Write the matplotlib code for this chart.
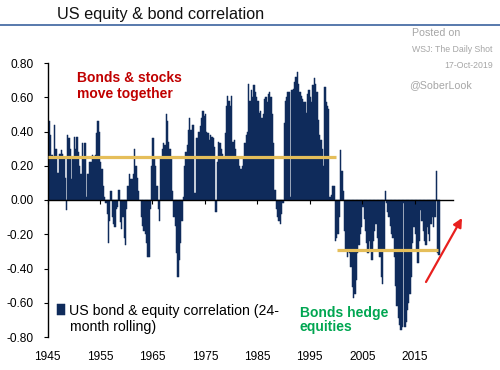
import matplotlib
matplotlib.use("Agg")
import numpy as np
import matplotlib.pyplot as plt
from matplotlib.ticker import FormatStrFormatter

plt.rcParams['font.family'] = ['Liberation Sans', 'DejaVu Sans']
plt.rcParams['axes.unicode_minus'] = False

# 24-month rolling correlation, quarterly readings starting 1945 Q2
start_year = 1945.25
corr = [
    0.46, 0.38, 0.26,                # 1945
    0.25, 0.44, 0.30, 0.16,          # 1946
    0.16, 0.27, 0.29, 0.27,          # 1947
    0.25, 0.13, -0.06, 0.38,         # 1948
    0.36, 0.30, 0.12, 0.25,          # 1949
    0.37, 0.30, 0.37, 0.28,          # 1950
    0.20, 0.15, 0.33, 0.25,          # 1951
    0.33, 0.02, 0.15, 0.15,          # 1952
    0.22, 0.22, 0.26, 0.24,          # 1953
    0.26, 0.39, 0.46, 0.40,          # 1954
    0.22, 0.18, 0.08, 0.02,          # 1955
    -0.02, -0.08, -0.25, -0.12,      # 1956
    0.05, -0.10, -0.14, -0.16,       # 1957
    -0.05, -0.04, 0.06, -0.13,       # 1958
    -0.17, -0.10, -0.22, -0.26,      # 1959
    -0.05, 0.08, 0.15, 0.12,         # 1960
    0.12, 0.15, 0.30, 0.20,          # 1961
    0.13, 0.05, 0.00, -0.10,         # 1962
    -0.15, -0.18, -0.20, -0.25,      # 1963
    -0.33, -0.33, -0.05, 0.20,       # 1964
    0.36, 0.24, 0.20, 0.08,          # 1965
    -0.05, -0.12, 0.24, 0.30,        # 1966
    0.33, 0.32, 0.50, 0.46,          # 1967
    0.34, 0.30, 0.25, 0.05,          # 1968
    -0.10, -0.15, -0.31, -0.45,      # 1969
    -0.35, -0.25, -0.12, 0.02,       # 1970
    0.20, 0.28, 0.32, 0.41,          # 1971
    0.48, 0.41, 0.44, 0.44,          # 1972
    0.04, 0.36, 0.36, 0.40,          # 1973
    0.43, 0.48, 0.52, 0.49,          # 1974
    0.50, 0.40, 0.39, 0.35,          # 1975
    0.38, 0.37, 0.36, 0.31,          # 1976
    -0.07, 0.22, 0.34, 0.33,         # 1977
    0.30, 0.27, 0.25, 0.39,          # 1978
    0.55, 0.61, 0.58, 0.55,          # 1979
    0.61, 0.34, 0.35, 0.30,          # 1980
    0.25, 0.24, 0.20, 0.18,          # 1981
    0.20, 0.24, 0.33, 0.38,          # 1982
    0.40, 0.68, 0.58, 0.64,          # 1983
    0.60, 0.67, 0.63, 0.60,          # 1984
    0.58, 0.51, 0.52, 0.48,          # 1985
    0.50, 0.59, 0.60, 0.57,          # 1986
    0.62, 0.63, 0.60, 0.50,          # 1987
    0.33, 0.06, -0.05, -0.10,        # 1988
    -0.12, -0.14, -0.08, -0.02,      # 1989
    0.45, 0.58, 0.60, 0.63,          # 1990
    0.63, 0.02, 0.64, 0.65,          # 1991
    0.69, 0.72, 0.75, 0.68,          # 1992
    0.63, 0.61, 0.59, 0.57,          # 1993
    0.57, 0.51, 0.62, 0.64,          # 1994
    0.60, 0.57, 0.67, 0.71,          # 1995
    0.68, 0.63, 0.47, 0.38,          # 1996
    0.35, 0.30, 0.20, 0.66,          # 1997
    0.57, 0.55, 0.53, 0.02,          # 1998
    0.03, 0.08, 0.08, -0.24,         # 1999
    -0.22, -0.20, -0.10, 0.29,       # 2000
    0.17, 0.05, -0.18, -0.30,        # 2001
    -0.33, -0.30, -0.31, -0.39,      # 2002
    -0.51, -0.57, -0.55, -0.47,      # 2003
    -0.31, -0.26, -0.20, -0.16,      # 2004
    -0.04, -0.11, -0.18, -0.25,      # 2005
    -0.31, -0.24, -0.30, -0.35,      # 2006
    -0.24, -0.18, -0.14, -0.22,      # 2007
    -0.29, -0.33, -0.45, -0.49,      # 2008
    -0.30, 0.05, -0.02, -0.07,       # 2009
    -0.10, -0.15, -0.20, -0.22,      # 2010
    -0.33, -0.50, -0.62, -0.69,      # 2011
    -0.73, -0.76, -0.74, -0.02,      # 2012
    -0.74, -0.71, -0.64, -0.60,      # 2013
    -0.55, -0.45, -0.25, -0.16,      # 2014
    -0.20, -0.30, -0.37, -0.24,      # 2015
    -0.06, -0.12, -0.18, -0.24,      # 2016
    -0.26, -0.16, -0.20, -0.24,      # 2017
    -0.14, -0.10, -0.16, -0.10,      # 2018
    0.17, -0.31, -0.32,              # 2019
]

# regime averages (gold lines)
avg_levels = [0.25, -0.29]
avg_start = [1945.0, 2000.2]
avg_end = [2000.0, 2019.5]

x_ticks = [1945, 1955, 1965, 1975, 1985, 1995, 2005, 2015]
y_ticks = [-0.8, -0.6, -0.4, -0.2, 0.0, 0.2, 0.4, 0.6, 0.8]

navy = '#0F2B5B'
gold = '#E5BE5A'
dark_red = '#C00000'
green = '#00A651'
grey = '#A6A6A6'

W, H = 500, 370


def fx(px):
    return px / W


def fy(py):
    return 1 - py / H


fig = plt.figure(figsize=(5, 3.7), dpi=100)
ax = fig.add_axes([fx(47.5), fy(337), fx(453 - 47.5), (337 - 63) / H])

years = start_year + 0.25 * np.arange(len(corr))
bars = ax.bar(years, corr, width=0.25, align='edge', color=navy,
              edgecolor=navy, linewidth=0.35,
              label='US bond & equity correlation (24-')
ax.hlines(avg_levels, avg_start, avg_end, colors=gold, linewidth=2.3, zorder=3)

ax.set_xlim(1945, 2022.3)
ax.set_ylim(-0.8, 0.8)

for side in ['top', 'right']:
    ax.spines[side].set_visible(False)
ax.spines['bottom'].set_position(('data', 0))
ax.spines['bottom'].set_zorder(4)
ax.spines['left'].set_linewidth(1.0)
ax.spines['bottom'].set_linewidth(1.0)

ax.set_yticks(y_ticks)
ax.yaxis.set_major_formatter(FormatStrFormatter('%.2f'))
ax.tick_params(axis='y', direction='out', length=3, pad=7, labelsize=8.6)
ax.set_xticks(x_ticks)
ax.tick_params(axis='x', direction='out', length=3, labelbottom=False)

# year labels sit under the plot, ticks stay on the zero line
sec = ax.secondary_xaxis('bottom')
sec.set_xticks(x_ticks)
sec.spines['bottom'].set_visible(False)
sec.tick_params(axis='x', length=0, pad=10, labelsize=8.6)

ax.legend(handles=[bars], loc='center left', bbox_to_anchor=(fx(57), fy(310.5)),
          bbox_transform=fig.transFigure, frameon=False, fontsize=10.2,
          handlelength=0.55, handleheight=0.75, handletextpad=0.3,
          borderpad=0, borderaxespad=0)
fig.text(fx(69.5), fy(327), 'month rolling)', fontsize=10.2, va='center', ha='left')

fig.text(fx(57), fy(14), 'US equity & bond correlation', fontsize=11.7,
         va='center', ha='left', color='#111111')
fig.add_artist(plt.Line2D([0, 1], [fy(25), fy(25)], transform=fig.transFigure,
                          color='#4A6EA6', linewidth=1.3))

fig.text(fx(412), fy(33), 'Posted on', fontsize=7.7, color=grey, va='center')
fig.text(fx(412), fy(49), 'WSJ: The Daily Shot', fontsize=6.3, color=grey, va='center')
fig.text(fx(493), fy(65), '17-Oct-2019', fontsize=6.3, color=grey, va='center', ha='right')
fig.text(fx(409), fy(85), '@SoberLook', fontsize=7.7, color=grey, va='center')

fig.text(fx(77), fy(86), 'Bonds & stocks\nmove together', fontsize=10, fontweight='bold',
         color=dark_red, va='center', ha='left', linespacing=1.1)
fig.text(fx(300), fy(320), 'Bonds hedge\nequities', fontsize=10, fontweight='bold',
         color=green, va='center', ha='left', linespacing=1.0)

ax.annotate('', xy=(fx(462), fy(218)), xytext=(fx(426), fy(282)),
            xycoords='figure fraction', textcoords='figure fraction',
            arrowprops=dict(arrowstyle='-|>', color='#E8201E', lw=1.6,
                            mutation_scale=13, shrinkA=0, shrinkB=0))

fig.savefig('out.png', dpi=100)
